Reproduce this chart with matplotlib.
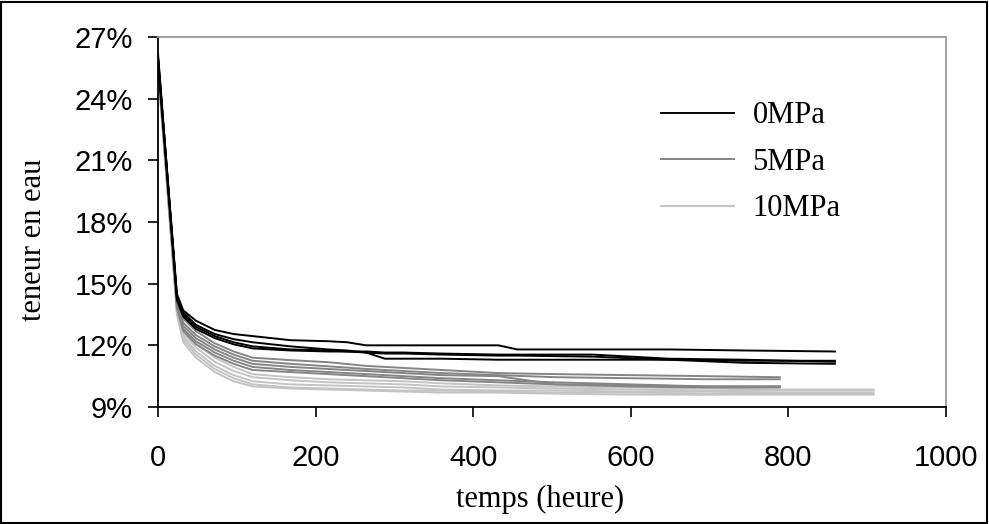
import matplotlib
matplotlib.use("Agg")
import matplotlib.pyplot as plt
from matplotlib.patches import Rectangle

# Drying curves: water content (%) versus time (hours) for three confining pressures
t_0mpa = [0, 24, 32, 48, 72, 96, 120, 168, 216, 240, 264, 288, 312, 360, 432, 456, 552, 648, 744, 859]
w_0mpa = [
    [26.0, 14.5, 13.7, 13.2, 12.75, 12.55, 12.45, 12.25, 12.2, 12.15, 12.0, 12.0, 12.0, 12.0, 12.0, 11.8, 11.8, 11.8, 11.75, 11.7],
    [26.0, 14.4, 13.6, 13.0, 12.55, 12.3, 12.15, 11.95, 11.8, 11.75, 11.65, 11.35, 11.35, 11.35, 11.3, 11.3, 11.3, 11.3, 11.25, 11.25],
    [25.8, 14.3, 13.5, 12.9, 12.45, 12.15, 11.95, 11.8, 11.75, 11.7, 11.7, 11.65, 11.65, 11.6, 11.55, 11.55, 11.55, 11.35, 11.3, 11.2],
    [26.2, 14.2, 13.4, 12.8, 12.35, 12.05, 11.85, 11.75, 11.7, 11.7, 11.65, 11.6, 11.6, 11.55, 11.5, 11.5, 11.45, 11.3, 11.15, 11.1],
]

t_5mpa = [0, 24, 32, 48, 72, 96, 120, 168, 216, 264, 312, 360, 432, 504, 600, 696, 789]
w_5mpa = [
    [26.0, 14.3, 13.3, 12.7, 12.1, 11.7, 11.4, 11.28, 11.18, 11.0, 10.9, 10.8, 10.65, 10.6, 10.55, 10.5, 10.45],
    [25.8, 14.1, 13.1, 12.5, 11.95, 11.55, 11.25, 11.1, 10.98, 10.85, 10.75, 10.65, 10.55, 10.45, 10.4, 10.35, 10.35],
    [25.9, 14.0, 12.95, 12.35, 11.8, 11.4, 11.1, 10.95, 10.85, 10.75, 10.65, 10.55, 10.5, 10.1, 10.05, 10.0, 10.0],
    [25.7, 13.9, 12.8, 12.2, 11.65, 11.25, 10.95, 10.8, 10.7, 10.6, 10.5, 10.4, 10.3, 10.2, 10.1, 10.0, 10.0],
    [25.6, 13.8, 12.7, 12.05, 11.5, 11.1, 10.8, 10.7, 10.6, 10.5, 10.4, 10.3, 10.2, 10.1, 10.0, 9.95, 9.95],
]

t_10mpa = [0, 24, 32, 48, 72, 96, 120, 168, 216, 264, 312, 360, 432, 504, 600, 696, 792, 908]
w_10mpa = [
    [25.9, 14.0, 12.8, 12.1, 11.4, 10.95, 10.6, 10.45, 10.35, 10.3, 10.25, 10.15, 10.05, 10.0, 9.95, 9.9, 9.85, 9.85],
    [25.7, 13.8, 12.6, 11.9, 11.2, 10.75, 10.45, 10.3, 10.2, 10.15, 10.1, 10.0, 9.95, 9.9, 9.85, 9.8, 9.8, 9.8],
    [25.6, 13.7, 12.45, 11.7, 11.0, 10.55, 10.25, 10.1, 10.05, 10.0, 9.95, 9.85, 9.8, 9.8, 9.75, 9.75, 9.7, 9.7],
    [25.5, 13.6, 12.3, 11.55, 10.85, 10.4, 10.1, 9.95, 9.9, 9.85, 9.8, 9.8, 9.75, 9.7, 9.7, 9.65, 9.65, 9.65],
    [25.4, 13.5, 12.15, 11.4, 10.7, 10.25, 10.0, 9.9, 9.85, 9.8, 9.75, 9.7, 9.7, 9.65, 9.6, 9.6, 9.6, 9.6],
]

labels = ["0MPa", "5MPa", "10MPa"]
colors = ["#000000", "#858585", "#c4c4c4"]

x_ticks = [0, 200, 400, 600, 800, 1000]
y_ticks = [9, 12, 15, 18, 21, 24, 27]
y_tick_labels = [f"{v}%" for v in y_ticks]

W, H = 989, 524
fig = plt.figure(figsize=(W / 100, H / 100), dpi=100)
ax = fig.add_axes([158 / W, 1 - 407 / H, (946 - 158) / W, (407 - 37) / H])

groups = [(t_0mpa, w_0mpa), (t_5mpa, w_5mpa), (t_10mpa, w_10mpa)]
handles = []
# draw lighter groups first so the dark curves sit on top
for (t, series), lab, col in reversed(list(zip(groups, labels, colors))):
    for i, w in enumerate(series):
        ln, = ax.plot(t, w, color=col, lw=1.4, solid_joinstyle="round",
                      label=lab if i == 0 else "_nolegend_")
        if i == 0:
            handles.append(ln)
handles = handles[::-1]

ax.set_xlim(0, 1000)
ax.set_ylim(9, 27)
ax.set_xticks(x_ticks)
ax.set_yticks(y_ticks)
ax.set_yticklabels(y_tick_labels)

sans = ["Liberation Sans", "DejaVu Sans"]
serif = ["Liberation Serif", "DejaVu Serif"]
for lbl in ax.get_xticklabels() + ax.get_yticklabels():
    lbl.set_family(sans)
    lbl.set_fontsize(21)

ax.tick_params(axis="both", direction="out", length=7, width=1.2, color="black")
ax.tick_params(axis="x", pad=19.5)
ax.tick_params(axis="y", pad=11)

for side in ("left", "bottom"):
    ax.spines[side].set_color("black")
    ax.spines[side].set_linewidth(1.3)
for side in ("top", "right"):
    ax.spines[side].set_color("#999999")
    ax.spines[side].set_linewidth(1.3)

leg = ax.legend(handles=handles, labels=labels, loc="upper left",
                bbox_to_anchor=(0.638, 0.826), frameon=False,
                prop={"family": serif, "size": 22}, handlelength=2.4,
                handletextpad=0.6, labelspacing=0.57, borderpad=0,
                borderaxespad=0)

fig.text(540 / W, 1 - 507 / H, "temps (heure)", family=serif, fontsize=22,
         ha="center", va="baseline")
fig.text(34 / W, 1 - 240 / H, "teneur en eau", family=serif, fontsize=22,
         ha="center", va="center", rotation=90)

# outer frame around the whole figure
fig.patches.append(Rectangle((1 / W, 1 / H), (W - 3) / W, (H - 3) / H,
                             transform=fig.transFigure, fill=False,
                             edgecolor="black", lw=1.5))

fig.savefig("out.png", dpi=100)
